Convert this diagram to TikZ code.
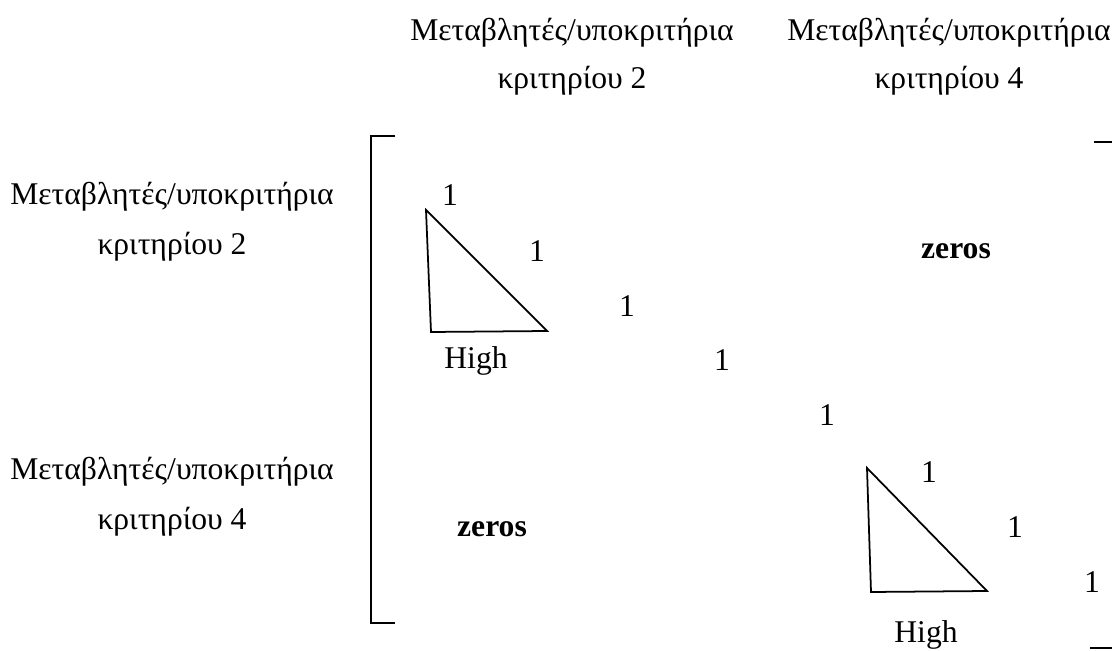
\documentclass[tikz,border=0pt]{standalone}
\usepackage{fontspec}
\setmainfont{Liberation Serif}
\usepackage{tikz}
\usetikzlibrary{positioning,calc}

\begin{document}
\begin{tikzpicture}[
  x=0.02cm, y=-0.02cm,
  etiketa/.style={font=\fontsize{18}{21}\selectfont, inner sep=0pt},
  asos/.style={font=\fontsize{18}{21}\selectfont, inner sep=0pt},
  midenika/.style={font=\fontsize{18}{21}\selectfont\bfseries, inner sep=0pt},
  grammi/.style={line width=1.2pt},
  trigono/.style={line width=1pt, line join=miter}
]
  \useasboundingbox (0,0) rectangle (1112,651);
  % column headers
  \node[etiketa] (s1a) at (572,33) {Μεταβλητές/υποκριτήρια};
  \node[etiketa] (s1b) at (572,81) {κριτηρίου 2};
  \node[etiketa] (s2a) at (949,33) {Μεταβλητές/υποκριτήρια};
  \node[etiketa] (s2b) at (949,81) {κριτηρίου 4};
  % row headers
  \node[etiketa] (g1a) at (172,197) {Μεταβλητές/υποκριτήρια};
  \node[etiketa] (g1b) at (172,247) {κριτηρίου 2};
  \node[etiketa] (g2a) at (172,472) {Μεταβλητές/υποκριτήρια};
  \node[etiketa] (g2b) at (172,522) {κριτηρίου 4};
  % diagonal of ones
  \node[asos] (d1) at (450,195) {1};
  \node[asos] (d2) at (537,251) {1};
  \node[asos] (d3) at (627,306) {1};
  \node[asos] (d4) at (722,360) {1};
  \node[asos] (d5) at (827,415) {1};
  \node[asos] (d6) at (929,472) {1};
  \node[asos] (d7) at (1015,527) {1};
  \node[asos] (d8) at (1092,582) {1};
  % off-diagonal blocks
  \node[midenika] (z1) at (956,251) {zeros};
  \node[midenika] (z2) at (492,529) {zeros};
  % triangles
  \draw[trigono] (426,210) -- (431,332) -- (547,331) -- cycle;
  \node[asos] (h1) at (476,361) {High};
  \draw[trigono] (867,468) -- (871,592) -- (987,591) -- cycle;
  \node[asos] (h2) at (926,635) {High};
  % brackets
  \draw[grammi] (395,136) -- (371,136) -- (371,623) -- (395,623);
  \draw[grammi] (1094,142) -- (1112,142);
  \draw[grammi] (1090,648) -- (1112,648);
\end{tikzpicture}
\end{document}
